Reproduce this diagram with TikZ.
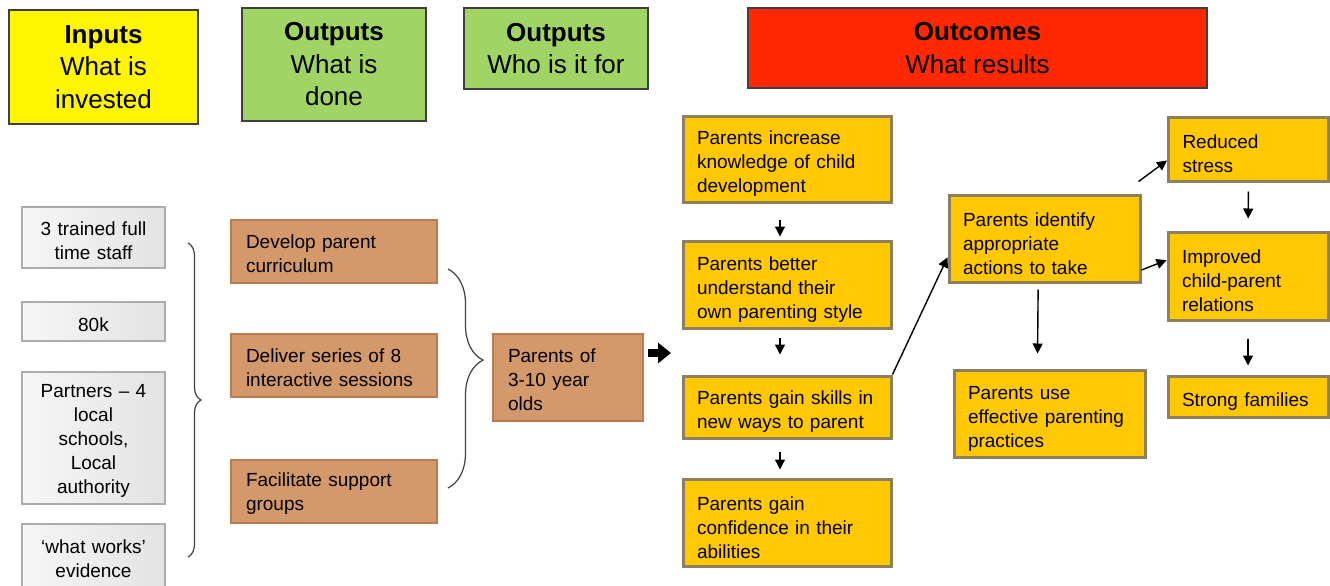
\documentclass[tikz,border=0pt]{standalone}
\usepackage{fontspec}
\setmainfont{Liberation Sans}
\usetikzlibrary{arrows.meta,decorations.pathreplacing}

\definecolor{hdyellow}{RGB}{255,245,0}
\definecolor{hdgreen}{RGB}{160,212,100}
\definecolor{hdred}{RGB}{255,40,0}
\definecolor{brfill}{RGB}{212,153,107}
\definecolor{bredge}{RGB}{184,124,84}
\definecolor{gdfill}{RGB}{255,200,0}
\definecolor{gdedge}{RGB}{140,128,95}

\tikzset{every picture/.style={line width=0.75pt}}
\tikzset{
  hdbox/.style={draw=black!75,line width=1.3pt,align=center,inner sep=0pt,font=\fontsize{26}{32.5}\selectfont},
  inbox/.style={draw=gray!65,line width=1.5pt,left color=gray!7,right color=gray!22,align=center,inner sep=0pt,text width=133pt,font=\fontsize{19}{24}\selectfont,execute at begin node={\rule{0pt}{19.5pt}}},
  dobox/.style={fill=brfill,draw=bredge,line width=2.5pt,align=left,inner xsep=15pt,inner ysep=0pt,font=\fontsize{19}{24}\selectfont,execute at begin node={\rule{0pt}{17.5pt}}},
  resbox/.style={fill=gdfill,draw=gdedge,line width=3pt,align=left,inner xsep=14pt,inner ysep=0pt,font=\fontsize{19}{24}\selectfont,execute at begin node={\rule{0pt}{23.5pt}}},
  arr/.style={-{Triangle[length=10pt,width=10pt]},line width=1.4pt},
  fat/.style={-{Triangle[length=13pt,width=20pt]},line width=8pt},
  brc/.style={decorate,draw=black!75,line width=1.2pt}
}

\begin{document}
\begin{tikzpicture}[x=1pt,y=1pt,yscale=-1,xscale=1]
	\path[use as bounding box] (0,0) rectangle (1330,586);
	
	%Shape: Rectangle (headers)
	\node (hdIn) [hdbox,fill=hdyellow,minimum width=189,minimum height=114] at (103.5,67) {{\bfseries Inputs}\\What is\\invested};
	\node (hdDo) [hdbox,fill=hdgreen,minimum width=184,minimum height=113] at (334,64.5) {{\bfseries Outputs}\\What is\\done};
	\node (hdWho) [hdbox,fill=hdgreen,minimum width=184,minimum height=81] at (556,48.5) {{\bfseries Outputs}\\Who is it for};
	\node (hdRes) [hdbox,fill=hdred,minimum width=459,minimum height=80] at (977.5,48) {{\bfseries Outcomes}\\What results};
	
	%Shape: Rectangle (inputs)
	\node (in1) [inbox,minimum width=143,minimum height=61] at (93.5,237.5) {3 trained full\\time staff};
	\node (in2) [inbox,minimum width=143,minimum height=39] at (93.5,321.5) {80k};
	\node (in3) [inbox,minimum width=143,minimum height=132] at (93.5,438) {Partners – 4\\local\\schools,\\Local\\authority};
	\node (in4) [inbox,minimum width=143,minimum height=64] at (93.5,556) {‘what works’\\evidence};
	
	%Shape: Brace
	\draw [brc,decoration={brace,amplitude=13pt}] (188,243) -- (188,557);
	
	%Shape: Rectangle (outputs)
	\node (do1) [dobox,text width=176pt,minimum width=206,minimum height=63] at (334,251.5) {Develop parent\\curriculum};
	\node (do2) [dobox,text width=176pt,minimum width=206,minimum height=63] at (334,365.5) {Deliver series of 8\\interactive sessions};
	\node (do3) [dobox,text width=176pt,minimum width=206,minimum height=63] at (334,491.5) {Facilitate support\\groups};
	
	%Shape: Brace
	\draw [brc,decoration={brace,amplitude=35pt,aspect=0.416}] (448,269) -- (448,488);
	
	\node (prt) [dobox,text width=120pt,minimum width=150,minimum height=87] at (568,377.5) {Parents of\\3-10 year\\olds};
	
	%Straight Lines (fat arrow)
	\coordinate (fatA) at (648,353);
	\coordinate (fatB) at (671,353);
	\draw [fat] (fatA) -- (fatB);
	
	%Shape: Rectangle (outcomes)
	\node (k1) [resbox,text width=180pt,minimum width=208,minimum height=86] at (787,159) {Parents increase\\knowledge of child\\development};
	\node (k2) [resbox,text width=180pt,minimum width=208,minimum height=87] at (787,284.5) {Parents better\\understand their\\own parenting style};
	\node (k3) [resbox,text width=180pt,minimum width=208,minimum height=62] at (787,407) {Parents gain skills in\\new ways to parent};
	\node (k4) [resbox,text width=180pt,minimum width=208,minimum height=87] at (787,522.5) {Parents gain\\confidence in their\\abilities};
	\node (idf) [resbox,text width=163pt,minimum width=191,minimum height=87] at (1044.5,238.5) {Parents identify\\appropriate\\actions to take};
	\node (use) [resbox,text width=163pt,minimum width=191,minimum height=87] at (1049.5,413.5) {Parents use\\effective parenting\\practices};
	\node (rs) [resbox,text width=132pt,minimum width=159,minimum height=64] at (1248.5,149) {Reduced\\stress};
	\node (imp) [resbox,text width=132pt,minimum width=160,minimum height=88] at (1248,276) {Improved\\child-parent\\relations};
	\node (sf) [resbox,text width=132pt,minimum width=160,minimum height=41] at (1248,396.5) {Strong families};
	
	%Straight Lines (arrows)
	\draw [arr,shorten <=16pt,shorten >=3pt] ([xshift=-7pt]k1.south) -- ([xshift=-7pt]k2.north);
	\draw [arr,shorten <=8pt,shorten >=20pt] ([xshift=-7pt]k2.south) -- ([xshift=-7pt]k3.north);
	\draw [arr,shorten <=12pt,shorten >=8pt] ([xshift=-7pt]k3.south) -- ([xshift=-7pt]k4.north);
	\draw [arr] (k3.north east) -- (idf.191.5);
	\draw [arr,shorten <=20pt] (idf.30.3) -- (rs.188);
	\draw [arr] (idf.-18.3) -- (imp.169);
	\draw [arr,shorten <=6pt,shorten >=15pt] (idf.-98.5) -- (use.105);
	\draw [arr,shorten <=9pt,shorten >=12pt] (rs.south) -- (imp.north);
	\draw [arr,shorten <=17pt,shorten >=9pt] (imp.south) -- (sf.north);
	
\end{tikzpicture}
\end{document}
